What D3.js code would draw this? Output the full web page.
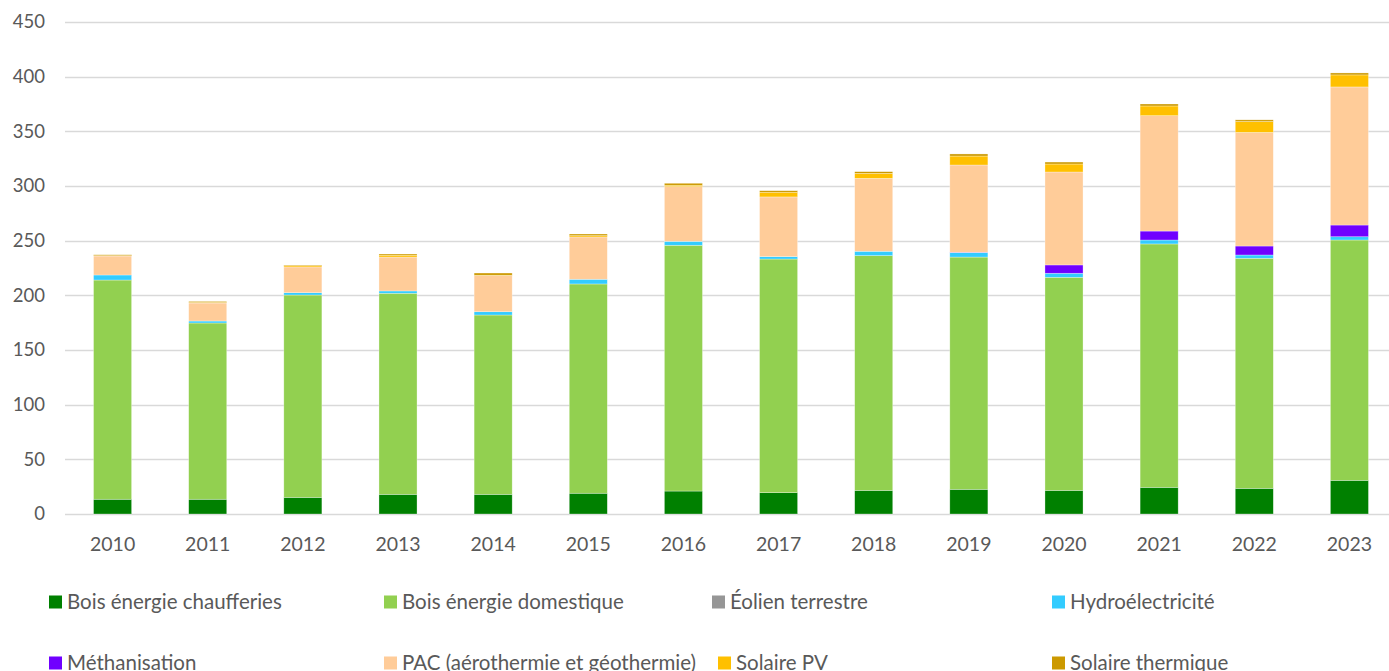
<!DOCTYPE html>
<html>
<head>
<meta charset="utf-8">
<script src="https://cdn.jsdelivr.net/npm/d3@7"></script>
<style>
	body { margin: 0; background: #fff; }
	svg { display: block; font-family: Lato, "Noto Sans", sans-serif; }
	.tick text, .legend text { fill: #595959; }
</style>
</head>
<body>
<svg id="chart" width="1389" height="671"></svg>
<script>
// données (GWh)
var years = ['2010','2011','2012','2013','2014','2015','2016','2017','2018','2019','2020','2021','2022','2023'];
var boisChaufferies = [13.5, 13.5, 15.2, 18, 18, 19, 21, 19.5, 21.6, 22.6, 21.6, 24.4, 23.5, 30.8];
var boisDomestique = [200.5, 161.2, 185.1, 183.9, 164, 191.4, 224.8, 213.7, 214.7, 212.4, 194.9, 222.6, 210.4, 219.8];
var eolien = [0, 0, 0, 0, 0, 0, 0, 0, 0, 0, 0, 0, 0, 0];
var hydro = [4.6, 1.8, 2.1, 2.1, 3, 4.3, 3.6, 2.2, 4, 4.1, 3.7, 3.6, 3, 3];
var methanisation = [0, 0, 0, 0, 0, 0, 0, 0, 0, 0.3, 7.6, 8.2, 8.2, 10.7];
var pac = [17.4, 16.5, 23.6, 31, 33, 38.7, 50, 54.6, 66.7, 79.8, 85, 105.5, 103.9, 126.3];
var solairePV = [0.3, 0.5, 1.2, 1.7, 0.4, 1.2, 1.3, 4.3, 4.6, 8.2, 7.3, 8.9, 10, 11];
var solaireThermique = [0.8, 0.9, 0.5, 1.1, 2, 1.5, 1.8, 1.4, 1.5, 1.9, 1.8, 1.8, 1.5, 1.8];
var yTicks = [0, 50, 100, 150, 200, 250, 300, 350, 400, 450];

var series = [
	{key: 'Bois énergie chaufferies', values: boisChaufferies, color: '#008000'},
	{key: 'Bois énergie domestique', values: boisDomestique, color: '#92D050'},
	{key: 'Éolien terrestre', values: eolien, color: '#969696'},
	{key: 'Hydroélectricité', values: hydro, color: '#33CCFF'},
	{key: 'Méthanisation', values: methanisation, color: '#7000FF'},
	{key: 'PAC (aérothermie et géothermie)', values: pac, color: '#FFCC99'},
	{key: 'Solaire PV', values: solairePV, color: '#FFC000'},
	{key: 'Solaire thermique', values: solaireThermique, color: '#CC9900'}
];

var table = years.map(function(y, i){
	var row = {year: y};
	series.forEach(function(s){ row[s.key] = s.values[i]; });
	return row;
});

var svg = d3.select('#chart');

var x = d3.scaleBand()
	.domain(years)
	.range([65, 1397])
	.paddingInner(0.6)
	.paddingOuter(0.3);

var y = d3.scaleLinear()
	.domain([0, 450])
	.range([514, 22]);

// grille
svg.append('g')
	.selectAll('line')
	.data(yTicks)
	.enter().append('line')
	.attr('x1', 65)
	.attr('x2', 1389)
	.attr('y1', function(d){ return Math.round(y(d)) + 0.5; })
	.attr('y2', function(d){ return Math.round(y(d)) + 0.5; })
	.attr('stroke', '#d9d9d9')
	.attr('stroke-width', 1.3);

var stack = d3.stack().keys(series.map(function(s){ return s.key; }));
var layers = stack(table);

svg.append('g')
	.selectAll('g')
	.data(layers)
	.enter().append('g')
	.attr('fill', function(d, i){ return series[i].color; })
	.selectAll('rect')
	.data(function(d){ return d; })
	.enter().append('rect')
	.attr('x', function(d){ return x(d.data.year); })
	.attr('width', x.bandwidth())
	.attr('y', function(d){ return y(d[1]); })
	.attr('height', function(d){ return y(d[0]) - y(d[1]); })
	.attr('stroke', 'rgba(255,255,255,0.5)')
	.attr('stroke-width', 0.6);

var yAxis = d3.axisLeft(y)
	.tickValues(yTicks)
	.tickSize(0)
	.tickPadding(0);

svg.append('g')
	.attr('transform', 'translate(45,0)')
	.call(yAxis)
	.call(function(g){ g.select('.domain').remove(); })
	.selectAll('text')
	.attr('font-size', 18.5)
	.attr('font-family', 'Lato, "Noto Sans", sans-serif');

var xAxis = d3.axisBottom(x)
	.tickSize(0)
	.tickPadding(23);

svg.append('g')
	.attr('transform', 'translate(0,514)')
	.call(xAxis)
	.call(function(g){ g.select('.domain').remove(); })
	.selectAll('text')
	.attr('font-size', 19.5)
	.attr('font-family', 'Lato, "Noto Sans", sans-serif');

// légende
var legendPos = [[49, 602], [384, 602], [712, 602], [1052, 602],
	[49, 663], [384, 663], [718, 663], [1052, 663]];

var legend = svg.append('g')
	.attr('class', 'legend')
	.selectAll('g')
	.data(series)
	.enter().append('g')
	.attr('transform', function(d, i){
		return 'translate(' + legendPos[i][0] + ',' + legendPos[i][1] + ')';
	});

legend.append('rect')
	.attr('y', -6.5)
	.attr('width', 13)
	.attr('height', 13)
	.attr('fill', function(d){ return d.color; });

legend.append('text')
	.attr('x', 18)
	.attr('dy', '0.35em')
	.attr('font-size', 20.5)
	.text(function(d){ return d.key; });
</script>
</body>
</html>
